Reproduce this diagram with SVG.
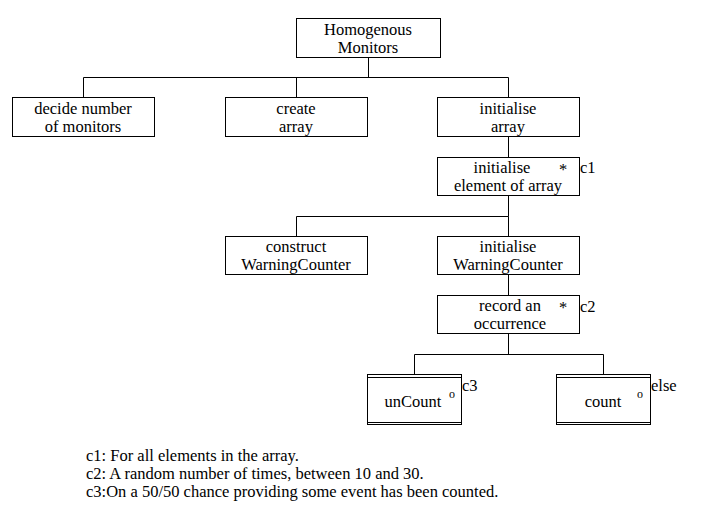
<svg xmlns="http://www.w3.org/2000/svg" width="703" height="510" viewBox="0 0 703 510">
<style>
rect{fill:#fff;stroke:#000;stroke-width:1}
line,path{stroke:#000;stroke-width:1;fill:none}
text{font-family:"Liberation Serif","Times New Roman",serif;font-size:16.5px;fill:#000}
.c{text-anchor:middle}
.s{font-size:12px}
</style>
<rect x="0" y="0" width="703" height="510" style="stroke:none"/>
<g id="connectors">
<path d="M368.5 58v19.5M83.5 97V77.5H508.5V97M296.5 77.5V97"/>
<path d="M508.5 137v20M508.5 196v20.5M296.5 236V216.5H508.5V236"/>
<path d="M508.5 275v20M508.5 334v20.5M414.5 374V354.5H603.5V374"/>
</g>
<g id="n0"><rect x="296.5" y="18.5" width="144" height="39"/><text class="c" x="368" y="35">Homogenous</text><text class="c" x="368" y="53">Monitors</text></g>
<g id="n1"><rect x="12.5" y="97.5" width="142" height="39"/><text class="c" x="83" y="114">decide number</text><text class="c" x="83" y="132">of monitors</text></g>
<g id="n2"><rect x="225.5" y="97.5" width="142" height="39"/><text class="c" x="296" y="114">create</text><text class="c" x="296" y="132">array</text></g>
<g id="n3"><rect x="437.5" y="97.5" width="142" height="39"/><text class="c" x="508" y="114">initialise</text><text class="c" x="508" y="132">array</text></g>
<g id="n4"><rect x="437.5" y="157.5" width="142" height="38"/><text class="c" x="502" y="173">initialise</text><text x="559" y="175">*</text><text class="c" x="508" y="191">element of array</text><text x="580" y="173">c1</text></g>
<g id="n5"><rect x="225.5" y="236.5" width="142" height="38"/><text class="c" x="296" y="252">construct</text><text class="c" x="296" y="270">WarningCounter</text></g>
<g id="n6"><rect x="437.5" y="236.5" width="142" height="38"/><text class="c" x="508" y="252">initialise</text><text class="c" x="508" y="270">WarningCounter</text></g>
<g id="n7"><rect x="437.5" y="295.5" width="142" height="38"/><text class="c" x="510" y="311">record an</text><text x="559" y="313">*</text><text class="c" x="510" y="329">occurrence</text><text x="580" y="312">c2</text></g>
<g id="n8"><rect x="367.5" y="374.5" width="94" height="50"/><path d="M367 377.5H462M367 422.5H462"/><text class="c" x="413" y="407">unCount</text><text class="s" x="449" y="398">o</text><text x="462" y="391">c3</text></g>
<g id="n9"><rect x="556.5" y="374.5" width="94" height="50"/><path d="M556 377.5H651M556 422.5H651"/><text class="c" x="603" y="407">count</text><text class="s" x="637" y="398">o</text><text x="651" y="391">else</text></g>
<g id="notes">
<text x="86" y="461">c1: For all elements in the array.</text>
<text x="86" y="479">c2: A random number of times, between 10 and 30.</text>
<text x="86" y="497">c3:On a 50/50 chance providing some event has been counted.</text>
</g>
</svg>
